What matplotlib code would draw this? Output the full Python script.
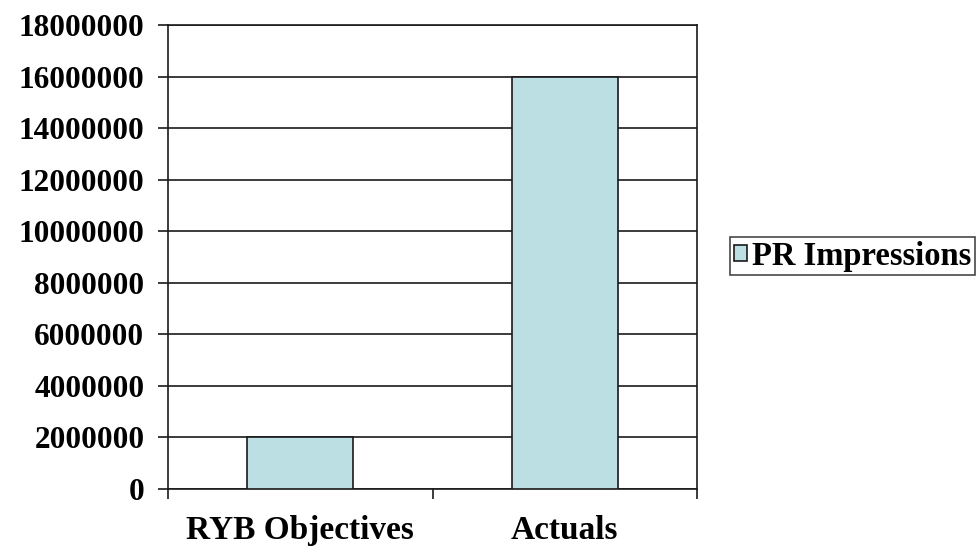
import matplotlib
matplotlib.use("Agg")
import matplotlib.pyplot as plt
import numpy as np

categories = ["RYB Objectives", "Actuals"]
pr_impressions = [2000000, 16000000]
series_name = "PR Impressions"
y_ticks = [0, 2000000, 4000000, 6000000, 8000000, 10000000, 12000000,
           14000000, 16000000, 18000000]

plt.rcParams['font.family'] = ['Liberation Serif', 'DejaVu Serif']
plt.rcParams['font.weight'] = 'bold'

fig = plt.figure(figsize=(9.77, 5.46), dpi=100)
ax = fig.add_axes([168/977, 1-489/546, (697-168)/977, (489-25)/546])

x = np.arange(len(categories))
bars = ax.bar(x, pr_impressions, width=0.4, color='#BBDFE3', edgecolor='#1a1a1a',
              linewidth=1.2, label=series_name, zorder=3)

ax.set_xlim(-0.5, 1.5)
ax.set_ylim(0, 18000000)
ax.set_yticks(y_ticks)
ax.set_yticklabels([str(v) for v in y_ticks], fontsize=22.5, fontweight='bold')
ax.yaxis.grid(True, color='#1a1a1a', linewidth=1.2, zorder=1)
ax.set_axisbelow(True)

ax.set_xticks(x)
ax.set_xticklabels(categories, fontsize=24, fontweight='bold')
ax.tick_params(axis='x', which='major', length=0, pad=19)
ax.set_xticks([-0.5, 0.5, 1.5], minor=True)
ax.tick_params(axis='x', which='minor', length=7, width=1.2, direction='out', color='#1a1a1a')
ax.tick_params(axis='y', length=7, width=1.2, direction='out', color='#1a1a1a', pad=10)

for s in ax.spines.values():
    s.set_color('#1a1a1a')
    s.set_linewidth(1.2)

leg = fig.legend(handles=[bars], labels=[series_name], loc='center left',
                 bbox_to_anchor=(730/977, 1-256/546), frameon=True, fancybox=False,
                 edgecolor='#1a1a1a', fontsize=23.5, handlelength=0.4, handleheight=0.4,
                 handletextpad=0.15, borderpad=0.12, borderaxespad=0)
leg.get_frame().set_linewidth(1.2)
for t in leg.get_texts():
    t.set_fontweight('bold')

fig.savefig('out.png', dpi=100, facecolor='white')
